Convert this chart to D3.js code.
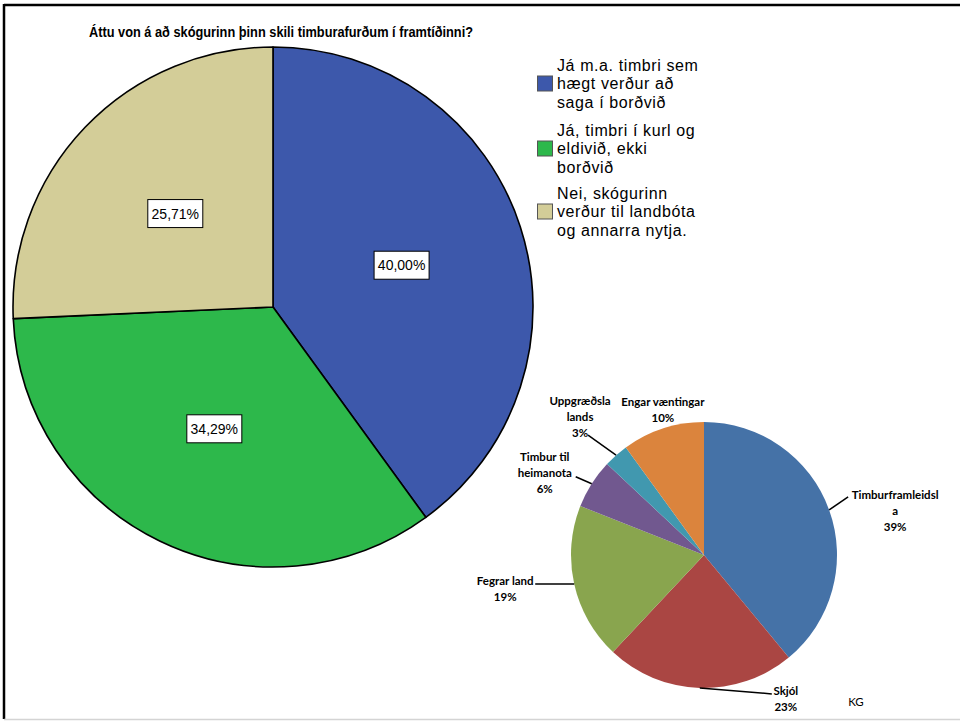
<!DOCTYPE html>
<html>
<head>
<meta charset="utf-8">
<script src="https://cdn.jsdelivr.net/npm/d3@7"></script>
<style>
  body { margin: 0; background: #fff; }
  svg { display: block; }
</style>
</head>
<body>
<svg id="chart"></svg>
<script>
// main pie data
const mainCategories = [
  ["Já m.a. timbri sem", "hægt verður að", "saga í borðvið"],
  ["Já, timbri í kurl og", "eldivið, ekki", "borðvið"],
  ["Nei, skógurinn", "verður til landbóta", "og annarra nytja."]
];
const mainValues = [40.0, 34.29, 25.71];
const mainColors = ["#3d58ab", "#2db84b", "#d3cd98"];

// small pie data
const smallCategories = [
  ["Timburframleidsl", "a"],
  ["Skjól"],
  ["Fegrar land"],
  ["Timbur til", "heimanota"],
  ["Uppgræðsla", "lands"],
  ["Engar væntingar"]
];
const smallValues = [39, 23, 19, 6, 3, 10];
const smallColors = ["#4572a7", "#aa4643", "#89a54e", "#71588f", "#4198af", "#db843d"];

const titleText = "Áttu von á að skógurinn þinn skili timburafurðum í framtíðinni?";

const width = 960;
const height = 721;

const svg = d3.select("#chart").attr("width", width).attr("height", height);

// frame
svg.append("line").attr("x1", 4).attr("x2", 960).attr("y1", 5).attr("y2", 5)
  .attr("stroke", "#000").attr("stroke-width", 2.5);
svg.append("line").attr("x1", 4).attr("x2", 4).attr("y1", 4).attr("y2", 719)
  .attr("stroke", "#000").attr("stroke-width", 2.5);
svg.append("line").attr("x1", 4).attr("x2", 960).attr("y1", 719.5).attr("y2", 719.5)
  .attr("stroke", "#d4d4d4").attr("stroke-width", 1.5);

// title
svg.append("text")
  .attr("x", 89).attr("y", 37)
  .attr("font-family", "Liberation Sans, Arial, sans-serif")
  .attr("font-weight", "bold")
  .attr("font-size", 15)
  .attr("textLength", 384)
  .attr("lengthAdjust", "spacingAndGlyphs")
  .text(titleText);

// ---- main pie
const cx = 273, cy = 307, r = 260;
const pie = d3.pie().sort(null).value((d) => d);
const mainArcs = pie(mainValues);
const arc = d3.arc().innerRadius(0).outerRadius(r);
const labelArc = d3.arc().innerRadius(r * 0.52).outerRadius(r * 0.52);

const gMain = svg.append("g").attr("transform", `translate(${cx},${cy})`);
gMain.selectAll("path")
  .data(mainArcs)
  .enter()
  .append("path")
  .attr("d", arc)
  .attr("fill", (d, i) => mainColors[i])
  .attr("stroke", "#000")
  .attr("stroke-width", 1.6)
  .attr("stroke-linejoin", "round");

const fmt = (v) => d3.format(".2f")(v).replace(".", ",") + "%";
const mainLabels = gMain.selectAll("g.lbl")
  .data(mainArcs)
  .enter()
  .append("g")
  .attr("class", "lbl")
  .attr("transform", (d) => `translate(${labelArc.centroid(d)})`);
mainLabels.append("rect")
  .attr("x", -27.5).attr("y", -14).attr("width", 55).attr("height", 28)
  .attr("fill", "#fff").attr("stroke", "#000").attr("stroke-width", 1);
mainLabels.append("text")
  .attr("text-anchor", "middle")
  .attr("dy", "0.36em")
  .attr("font-family", "Liberation Sans, Arial, sans-serif")
  .attr("font-size", 14)
  .text((d) => fmt(d.data));

// legend
const legend = svg.append("g").attr("transform", "translate(537,0)");
const legendTop = [65, 130, 193];
mainCategories.forEach((lines, i) => {
  const g = legend.append("g").attr("transform", `translate(0,${legendTop[i]})`);
  g.append("rect")
    .attr("x", 0.5).attr("y", 18.5 - 7.5).attr("width", 15).attr("height", 15)
    .attr("fill", mainColors[i]).attr("stroke", "#555").attr("stroke-width", 1);
  lines.forEach((t, j) => {
    g.append("text")
      .attr("x", 20).attr("y", j * 18.5)
      .attr("dy", "0.36em")
      .attr("font-family", "Liberation Sans, Arial, sans-serif")
      .attr("font-size", 16)
      .attr("letter-spacing", 0.6)
      .text(t);
  });
});

// ---- small pie
const scx = 704, scy = 555, sr = 133;
const smallArcs = pie(smallValues);
const sArc = d3.arc().innerRadius(0).outerRadius(sr);
const edgeArc = d3.arc().innerRadius(sr).outerRadius(sr);

// leader end and text position, relative to the slice's outer midpoint
const leaderEnds = [[19, -13], [72, 6], [-39, 0], [-16, -7], [-28, -20], null];
const textOffsets = [[66, -15], [86, 3], [-69, -3], [-47, -27], [-36, -54], [0, -27]];

const gSmall = svg.append("g").attr("transform", `translate(${scx},${scy})`);
gSmall.selectAll("path")
  .data(smallArcs)
  .enter()
  .append("path")
  .attr("d", sArc)
  .attr("fill", (d, i) => smallColors[i]);

smallArcs.forEach((d, i) => {
  const [px, py] = edgeArc.centroid(d);
  if (leaderEnds[i]) {
    gSmall.append("line")
      .attr("x1", px).attr("y1", py)
      .attr("x2", px + leaderEnds[i][0]).attr("y2", py + leaderEnds[i][1])
      .attr("stroke", "#000").attr("stroke-width", 1.5);
  }
  const lines = smallCategories[i].concat([smallValues[i] + "%"]);
  const t = gSmall.append("text")
    .attr("text-anchor", "middle")
    .attr("font-family", "Lato, Open Sans, sans-serif")
    .attr("font-weight", "bold")
    .attr("font-size", 11.5);
  lines.forEach((s, j) => {
    t.append("tspan")
      .attr("x", px + textOffsets[i][0])
      .attr("y", py + textOffsets[i][1] + j * 16)
      .attr("dy", "0.36em")
      .text(s);
  });
});

svg.append("text")
  .attr("x", 856).attr("y", 702)
  .attr("text-anchor", "middle")
  .attr("dy", "0.36em")
  .attr("font-family", "Lato, Open Sans, sans-serif")
  .attr("font-size", 11.5)
  .text("KG");
</script>
</body>
</html>
